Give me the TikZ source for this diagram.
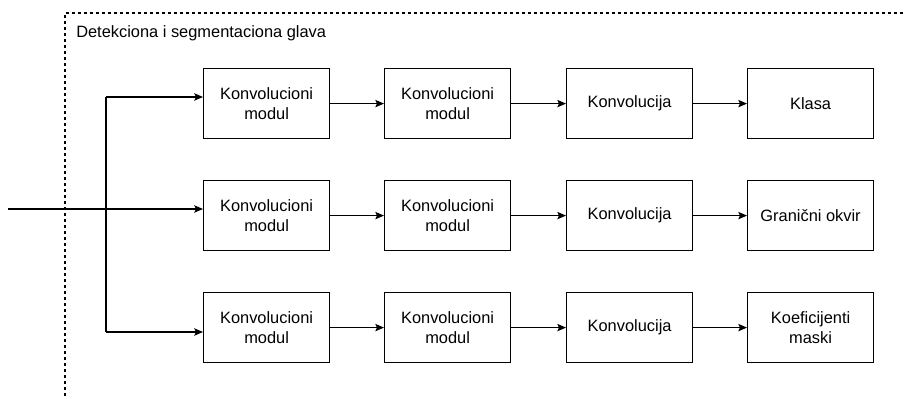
\documentclass[tikz,border=0pt]{standalone}
\usepackage{fontspec}
\setmainfont{Liberation Sans}
\usetikzlibrary{arrows.meta}
\begin{document}
\begin{tikzpicture}[x=0.75pt,y=-0.75pt,
  font=\fontsize{12.3pt}{15pt}\selectfont,
  block/.style={draw, line width=0.9pt, minimum width=94.5pt, minimum height=52.5pt,
    inner sep=0pt, align=center, anchor=north west},
  link/.style={line width=0.8pt, -{Stealth[length=6.5pt, width=5.5pt, inset=1.2pt]}},
  wire/.style={line width=0.8pt},
  frame/.style={line width=0.8pt, dash pattern=on 2.4pt off 2.1pt}]
\useasboundingbox (0,0) rectangle (906,399);
\clip (0,0) rectangle (906,399);

% dashed frame of the head (continues beyond the page)
\draw[frame] (65,420) -- (65,13) -- (930,13);
\node[anchor=base west, inner sep=0pt] (title) at (76,38) {Detekciona i segmentaciona glava};

% three branches of blocks
\node[block] (a1) at (203,68)  {Konvolucioni\\modul};
\node[block] (a2) at (384,68)  {Konvolucioni\\modul};
\node[block] (a3) at (566,68)  {Konvolucija};
\node[block] (a4) at (747,68)  {Klasa};

\node[block] (b1) at (203,180) {Konvolucioni\\modul};
\node[block] (b2) at (384,180) {Konvolucioni\\modul};
\node[block] (b3) at (566,180) {Konvolucija};
\node[block] (b4) at (747,180) {Granični okvir};

\node[block] (c1) at (203,292) {Konvolucioni\\modul};
\node[block] (c2) at (384,292) {Konvolucioni\\modul};
\node[block] (c3) at (566,292) {Konvolucija};
\node[block] (c4) at (747,292) {Koeficijenti\\maski};

% input and its split into the branches
\coordinate (in) at (8,209);
\coordinate (top) at (106,97);
\coordinate (bot) at (106,332);
\draw[wire] (top) -- (bot);
\draw[link] (in) -- (in -| b1.west);
\draw[link] (top) -- (top -| a1.west);
\draw[link] (bot) -- (bot -| c1.west);

% chains along each branch
\foreach \r in {a,b,c}{
  \draw[link] (\r1) -- (\r2);
  \draw[link] (\r2) -- (\r3);
  \draw[link] (\r3) -- (\r4);
}
\end{tikzpicture}
\end{document}
